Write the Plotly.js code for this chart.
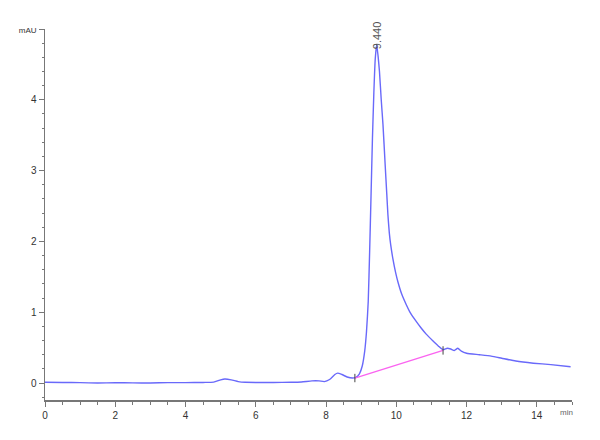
<!DOCTYPE html>
<html>
<head>
<title>chromatogram</title>
<script src="https://cdn.plot.ly/plotly-3.0.1.min.js"></script>
<style>
body{margin:0;padding:0;background:#fff;}
#plot{width:600px;height:440px;}
</style>
</head>
<body>
<div id="plot"></div>
<script>
// retention time (min) and signal (mAU)
var timeMin=[0,0.5,1.0,1.5,2.0,2.5,3.0,3.5,4.0,4.5,4.8,5.0,5.12,5.3,5.5,5.7,6.0,6.5,7.0,7.3,7.6,7.8,7.95,8.1,8.25,8.33,8.45,8.6,8.75,8.85,8.95,9.03,9.1,9.15,9.2,9.24,9.28,9.32,9.36,9.40,9.44,9.48,9.52,9.57,9.62,9.68,9.73,9.76,9.8,9.84,9.9,9.98,10.05,10.15,10.28,10.4,10.55,10.7,10.85,11.03,11.2,11.33,11.45,11.55,11.65,11.75,11.85,12.0,12.36,12.7,13.0,13.4,13.9,14.4,14.96];
var signal=[0.01,0.008,0.005,0.0,0.003,0.002,0.0,0.006,0.005,0.008,0.012,0.045,0.056,0.045,0.02,0.01,0.008,0.008,0.01,0.015,0.03,0.03,0.02,0.05,0.12,0.14,0.12,0.085,0.07,0.08,0.13,0.24,0.45,0.72,1.15,1.85,2.65,3.45,4.1,4.58,4.78,4.62,4.4,4.0,3.65,3.1,2.65,2.38,2.12,1.95,1.76,1.56,1.42,1.26,1.11,0.99,0.88,0.78,0.69,0.6,0.52,0.47,0.49,0.48,0.46,0.49,0.45,0.42,0.40,0.38,0.35,0.31,0.28,0.26,0.23];
// integration baseline end points
var baseT=[8.82,11.33];
var baseY=[0.07,0.46];
// peak label
var peakT=9.44, peakY=4.78, peakLabel="9.440";
// tick labels
var yTickVals=[0,1,2,3,4,5];
var yTickText=["0","1","2","3","4","<span style=\"font-size:8px\">mAU</span>"];
var xTickVals=[0,2,4,6,8,10,12,14];
var xTickText=["0","2","4","6","8","10","12","14"];

var trace1={x:timeMin,y:signal,type:'scatter',mode:'lines',
  line:{color:'rgb(105,105,250)',width:1.4,shape:'spline',smoothing:0.5},hoverinfo:'skip'};
var trace2={x:baseT,y:baseY,type:'scatter',mode:'lines+markers',
  line:{color:'rgb(250,100,240)',width:1.4},
  marker:{symbol:'line-ns',size:6,line:{color:'#444',width:1}},hoverinfo:'skip'};

var axfont={family:'Liberation Sans, Arial, sans-serif',size:10,color:'#333'};
var layout={
  width:600,height:440,
  margin:{l:45,r:28,t:29,b:40},
  paper_bgcolor:'#fff',plot_bgcolor:'#fff',
  showlegend:false,
  xaxis:{range:[0,15],showgrid:false,zeroline:false,showline:true,linecolor:'#777',linewidth:1.5,
    ticks:'outside',ticklen:5,tickcolor:'#777',tickwidth:1,
    tickvals:xTickVals,ticktext:xTickText,tickfont:axfont,
    minor:{dtick:0.5,ticks:'outside',ticklen:3,tickcolor:'#777'}},
  yaxis:{range:[-0.24,5.0],showgrid:false,zeroline:false,showline:true,linecolor:'#777',linewidth:1.5,
    ticks:'outside',ticklen:5,tickcolor:'#777',tickwidth:1,
    tickvals:yTickVals,ticktext:yTickText,tickfont:axfont,
    minor:{dtick:0.2,ticks:'outside',ticklen:2,tickcolor:'#777'}},
  annotations:[
    {x:peakT,y:peakY,xref:'x',yref:'y',text:peakLabel,showarrow:false,textangle:-90,
     yanchor:'bottom',yshift:-7,font:{family:'Liberation Sans, Arial, sans-serif',size:11,color:'#555'}},
    {x:14.83,y:0,xref:'x',yref:'paper',text:'min',showarrow:false,yanchor:'top',yshift:-6,
     font:{family:'Liberation Sans, Arial, sans-serif',size:8,color:'#666'}}
  ]
};
Plotly.newPlot('plot',[trace1,trace2],layout,{staticPlot:true});
</script>
</body>
</html>
